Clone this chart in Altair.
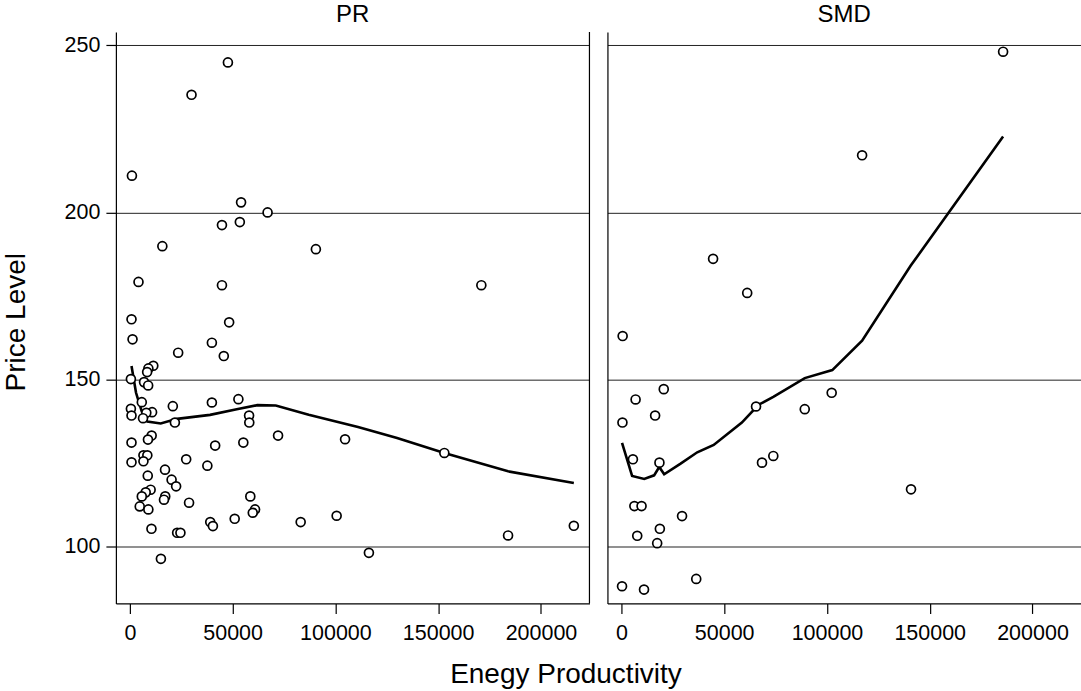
import altair as alt
import pandas as pd

# ---- data ----
pr_x = [47700, 30000, 1000, 54100, 67000, 44800, 53500, 15800, 90500, 4200,
        44800, 171000, 800, 48300, 1300, 39900, 23500, 45700, 11400, 9000,
        8400, 500, 6900, 8900, 52800, 5800, 39900, 20900, 500, 10800,
        8000, 800, 58000, 6400, 21900, 58100, 10600, 8800, 72100, 104700,
        800, 41500, 55200, 6600, 8500, 6600, 800, 27400, 37700, 17100,
        8700, 20300, 22500, 10100, 7700, 5800, 17200, 16600, 58600, 28800,
        4800, 9000, 60900, 59800, 100600, 39100, 40400, 51000, 83100, 10500,
        23000, 24600, 15100, 153000, 116300, 184000, 216000]
pr_y = [244.9, 235.2, 211.0, 203.0, 200.0, 196.2, 197.1, 189.9, 189.0, 179.2,
        178.2, 178.2, 168.0, 167.1, 162.0, 161.0, 158.0, 157.0, 154.1, 153.3,
        152.2, 150.1, 149.2, 148.2, 144.1, 143.2, 143.1, 142.0, 141.2, 140.2,
        140.0, 139.2, 139.2, 138.4, 137.1, 137.1, 133.2, 132.0, 133.2, 132.1,
        131.1, 130.2, 131.1, 127.3, 127.3, 125.5, 125.2, 126.1, 124.2, 123.0,
        121.2, 120.0, 118.0, 117.0, 116.2, 115.0, 115.0, 114.0, 115.0, 113.1,
        112.0, 111.1, 111.1, 110.1, 109.2, 107.3, 106.1, 108.3, 107.3, 105.3,
        104.1, 104.1, 96.3, 128.0, 98.1, 103.3, 106.2]

pr_fit_x = [800, 3000, 5800, 8500, 15000, 23000, 39000, 52000, 62000, 71000,
            87000, 111000, 130000, 153000, 184000, 216000]
pr_fit_y = [154.0, 146.0, 140.4, 137.4, 136.8, 138.2, 139.4, 141.1, 142.3, 142.2,
            139.4, 135.8, 132.5, 128.0, 122.5, 119.0]

smd_x = [185700, 117100, 44600, 61200, 600, 20600, 6900, 102300, 16400, 500,
         65500, 89200, 5600, 18500, 68400, 73900, 140900, 6300, 9800, 29500,
         18700, 7700, 17400, 36400, 300, 11000]
smd_y = [248.1, 217.1, 186.1, 175.9, 163.0, 147.1, 144.0, 146.0, 139.2, 137.1,
         141.9, 141.1, 126.1, 125.1, 125.1, 127.1, 117.1, 112.1, 112.1, 109.1,
         105.3, 103.2, 101.0, 90.3, 88.1, 87.1]

smd_fit_x = [300, 5200, 11100, 15900, 18400, 20800, 28800, 36900, 44900, 58600,
             66700, 73900, 89200, 102600, 117100, 140700, 185700]
smd_fit_y = [131.0, 121.1, 120.2, 121.3, 123.8, 121.6, 124.8, 128.2, 130.4, 137.1,
             142.4, 144.8, 150.4, 152.8, 161.6, 184.0, 222.7]

x_ticks = [0, 50000, 100000, 150000, 200000]
y_ticks = [100, 150, 200, 250]
panel_names = ["PR", "SMD"]

X_DOMAIN = [-6800, 223600]
Y_DOMAIN = [82.95, 254.0]
W, H = 474, 572
FONT = "Liberation Sans"


def panel(name, px, py, fx, fy, first):
    pts = pd.DataFrame({"x": px, "y": py})
    fit = pd.DataFrame({"x": fx, "y": fy})

    if first:
        xaxis = alt.Axis(values=x_ticks, format="d", grid=False,
                         title="Enegy Productivity", titleX=450, titleY=79,
                         titleBaseline="alphabetic", titleFontSize=28,
                         titleFontWeight="normal", titleFont=FONT, titleColor="black")
        yaxis = alt.Axis(values=y_ticks, grid=True, title="Price Level",
                         titleX=-91, titleY=290, titleAngle=270,
                         titleBaseline="alphabetic", titleFontSize=28,
                         titleFontWeight="normal", titleFont=FONT, titleColor="black")
    else:
        xaxis = alt.Axis(values=x_ticks, format="d", grid=False, title="")
        yaxis = alt.Axis(values=y_ticks, grid=True, labels=False, ticks=False, title="")

    xenc = alt.X("x:Q", scale=alt.Scale(domain=X_DOMAIN, nice=False, zero=False), axis=xaxis)
    yenc = alt.Y("y:Q", scale=alt.Scale(domain=Y_DOMAIN, nice=False, zero=False), axis=yaxis)

    line = alt.Chart(fit).mark_line(color="black", strokeWidth=2.6).encode(
        x=xenc, y=yenc, order="x:Q")
    dots = alt.Chart(pts).mark_point(shape="circle", filled=False, fill="white",
                                     fillOpacity=1, stroke="black", strokeWidth=1.7,
                                     size=80, opacity=1).encode(x=xenc, y=yenc)
    layers = [line, dots]
    if first:
        border = alt.Chart(pd.DataFrame({"a": [0]})).mark_rule(
            color="black", strokeWidth=1.2).encode(
            x=alt.value(W), y=alt.value(0), y2=alt.value(H))
        layers.append(border)
    return alt.layer(*layers).properties(
        width=W, height=H,
        title=alt.TitleParams(text=name, fontSize=24, font=FONT, fontWeight="normal",
                              anchor="middle", baseline="alphabetic", offset=-14.4,
                              color="black"))


left = panel(panel_names[0], pr_x, pr_y, pr_fit_x, pr_fit_y, True)
right = panel(panel_names[1], smd_x, smd_y, smd_fit_x, smd_fit_y, False)

chart = alt.hconcat(left, right, spacing=18, bounds="flush").properties(
    padding={"left": 3, "top": 1.7, "right": 0, "bottom": 0},
    background="white",
).configure_view(strokeWidth=0).configure_axis(
    domainColor="black", domainWidth=1.2, tickColor="black", tickWidth=1.2,
    tickSize=10, labelFontSize=21.5, labelFont=FONT, labelColor="black",
    labelPadding=8, gridColor="#222222", gridWidth=1,
).configure_axisX(labelPadding=9).configure_axisY(labelPadding=6)

chart.save("out.html", embed_options={"renderer": "svg", "actions": False})
